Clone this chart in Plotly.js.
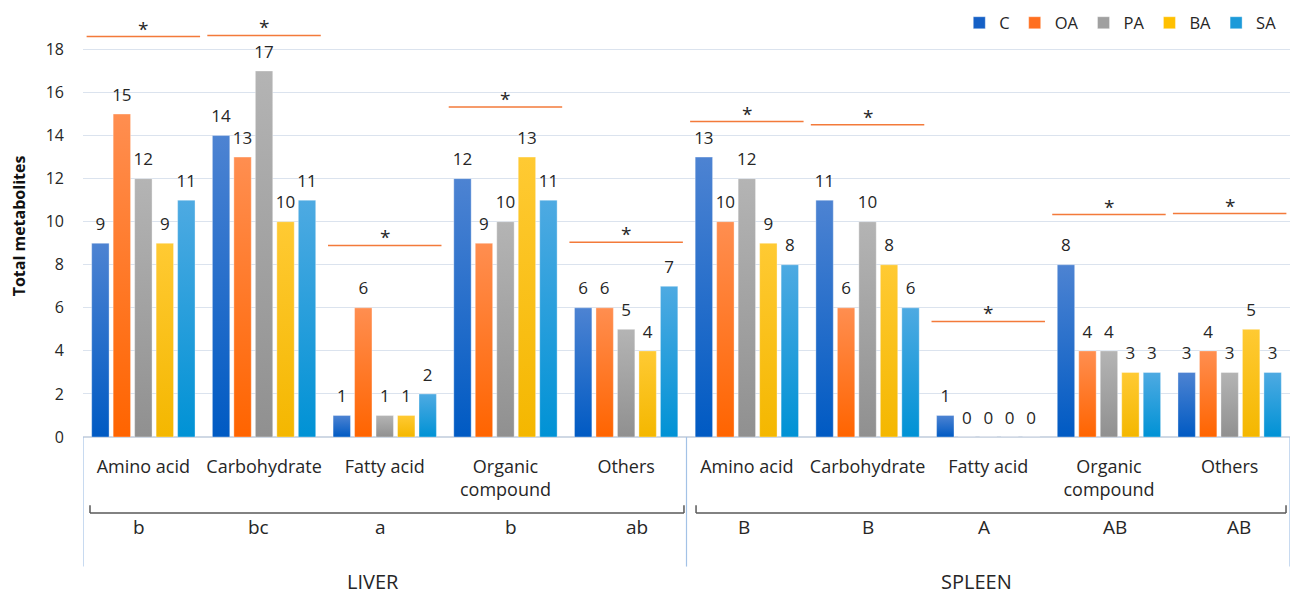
<!DOCTYPE html>
<html>
<head>
<meta charset="utf-8">
<script src="https://cdn.plot.ly/plotly-3.0.1.min.js"></script>
<style>
  html, body { margin: 0; padding: 0; background: #ffffff; }
  #chart { width: 1296px; height: 599px; }
</style>
</head>
<body>
<div id="chart"></div>
<script>
// Metabolite classes per tissue
const tissues = ['LIVER', 'SPLEEN'];
const classes = ['Amino acid', 'Carbohydrate', 'Fatty acid', 'Organic compound', 'Others'];
const classLabels = ['Amino acid', 'Carbohydrate', 'Fatty acid', 'Organic<br>compound', 'Others'];

// Treatment groups
const groups = ['C', 'OA', 'PA', 'BA', 'SA'];

// Total metabolites: liver classes then spleen classes
const valuesC  = [9, 14, 1, 12, 6,   13, 11, 1, 8, 3];
const valuesOA = [15, 13, 6, 9, 6,   10, 6, 0, 4, 4];
const valuesPA = [12, 17, 1, 10, 5,  12, 10, 0, 4, 3];
const valuesBA = [9, 10, 1, 13, 4,   9, 8, 0, 3, 5];
const valuesSA = [11, 11, 2, 11, 7,  8, 6, 0, 3, 3];

// Significance markers (*) drawn above each class, and the letter groupings
const sigLevels = [18.6, 18.65, 8.9, 15.33, 9.05,  14.65, 14.5, 5.37, 10.33, 10.38];
const liverLetters = ['b', 'bc', 'a', 'b', 'ab'];
const spleenLetters = ['B', 'B', 'A', 'AB', 'AB'];

const seriesValues = [valuesC, valuesOA, valuesPA, valuesBA, valuesSA];

// Colours: legend swatch, gradient top, gradient bottom
const swatch = ['#1560c6', '#ff6f1f', '#a0a0a0', '#ffc000', '#1c9ad9'];
const gradTop = ['#4d83d2', '#ff8e50', '#b4b4b4', '#ffca33', '#4eaae2'];
const gradBottom = ['#005ac3', '#ff6400', '#909090', '#f4b700', '#0092d5'];

const FONT = 'Open Sans, sans-serif';
const INK = '#262626';

// One category key per tissue/class pair
const xKeys = [];
const xText = [];
tissues.forEach(t => classes.forEach((c, i) => { xKeys.push(t + ' · ' + c); xText.push(classLabels[i]); }));

const traces = [];
groups.forEach((g, k) => {
  traces.push({
    type: 'bar', name: g, x: xKeys, y: seriesValues[k],
    marker: { color: swatch[k], line: { color: 'rgba(255,255,255,0.35)', width: 1 } },
    hoverinfo: 'x+y+name'
  });
});
// Value labels, grouped alongside the bars
groups.forEach((g, k) => {
  traces.push({
    type: 'scatter', mode: 'markers+text', name: g + ' label', showlegend: false,
    orientation: 'v',
    x: xKeys, y: seriesValues[k], text: seriesValues[k].map(String),
    textposition: 'top center', cliponaxis: false,
    textfont: { family: FONT, size: 17, color: INK },
    marker: { size: 13, opacity: 0 }, hoverinfo: 'skip'
  });
});

const shapes = [];
const annotations = [];

// Significance lines with asterisks
sigLevels.forEach((lv, i) => {
  shapes.push({ type: 'line', xref: 'x', yref: 'y', x0: i - 0.47, x1: i + 0.47, y0: lv, y1: lv,
    line: { color: '#f37a3a', width: 1.5 } });
  annotations.push({ xref: 'x', yref: 'y', x: i, y: lv, text: '*', showarrow: false,
    yanchor: 'middle', yshift: 8, font: { family: FONT, size: 19, color: INK } });
});

// Tissue separators below the axis
[-0.5, 4.5, 9.5].forEach(xv => {
  shapes.push({ type: 'line', xref: 'x', yref: 'paper', x0: xv, x1: xv, y0: 0, y1: -0.307,
    line: { color: '#a3c2e6', width: 1.2 } });
});

// Brackets grouping the classes of each tissue
[[-0.442, 4.479], [4.579, 9.467]].forEach(([a, b]) => {
  const yb = -0.1803, yh = -0.1616;
  const ln = { color: '#595959', width: 1.5 };
  shapes.push({ type: 'line', xref: 'x', yref: 'paper', x0: a, x1: b, y0: yb, y1: yb, line: ln });
  shapes.push({ type: 'line', xref: 'x', yref: 'paper', x0: a, x1: a, y0: yb, y1: yh, line: ln });
  shapes.push({ type: 'line', xref: 'x', yref: 'paper', x0: b, x1: b, y0: yb, y1: yh, line: ln });
});

// Letter groupings under each class (small horizontal nudges per letter)
const letterNudge = [-4, -6, -4, 6, 11,  -3, 0, -4, 6, 9];
liverLetters.concat(spleenLetters).forEach((t, i) => {
  annotations.push({ xref: 'x', yref: 'paper', x: i, y: -0.2131, text: t, showarrow: false,
    xshift: letterNudge[i], yanchor: 'middle', font: { family: FONT, size: 19, color: INK } });
});

// Tissue names
annotations.push({ xref: 'x', yref: 'paper', x: 1.9, y: -0.3794, text: 'LIVER', showarrow: false,
  yanchor: 'bottom', font: { family: FONT, size: 20, color: INK } });
annotations.push({ xref: 'x', yref: 'paper', x: 6.9, y: -0.3794, text: 'SPLEEN', showarrow: false,
  yanchor: 'bottom', font: { family: FONT, size: 20, color: INK } });

const layout = {
  width: 1296, height: 599,
  margin: { l: 83, r: 6, t: 10, b: 162 },
  paper_bgcolor: '#ffffff', plot_bgcolor: '#ffffff',
  font: { family: FONT, color: INK },
  barmode: 'group', bargap: 0.11, bargroupgap: 0.19,
  scattermode: 'group', scattergap: 0.11,
  showlegend: true,
  legend: {
    orientation: 'h', x: 0.726, xanchor: 'left', y: 0.981, yanchor: 'middle',
    font: { family: FONT, size: 16.5, color: INK }, bgcolor: 'rgba(0,0,0,0)', traceorder: 'normal'
  },
  xaxis: {
    type: 'category', range: [-0.5, 9.5],
    tickmode: 'array', tickvals: xKeys, ticktext: xText,
    tickfont: { family: FONT, size: 18, color: INK },
    ticklabelstandoff: 17,
    showgrid: false, showline: false, zeroline: false, ticks: ''
  },
  yaxis: {
    range: [0, 19.6], tickmode: 'linear', tick0: 0, dtick: 2,
    tickfont: { family: FONT, size: 16, color: INK },
    ticklabelstandoff: 18, ticks: '',
    showgrid: true, gridcolor: '#dbe3ee', gridwidth: 1,
    zeroline: true, zerolinecolor: '#cfd8e4', zerolinewidth: 1.2,
    showline: false,
    title: { text: 'Total metabolites', standoff: 16,
      font: { family: FONT, size: 16, weight: 'bold', color: '#111111' } }
  },
  shapes: shapes,
  annotations: annotations
};

// Vertical light-to-dark fills on the bars
function applyGradients(gd) {
  const svgNS = 'http://www.w3.org/2000/svg';
  const svg = gd.querySelector('.main-svg');
  let defs = svg.querySelector('defs');
  if (!defs) { defs = document.createElementNS(svgNS, 'defs'); svg.insertBefore(defs, svg.firstChild); }
  groups.forEach((g, k) => {
    const lg = document.createElementNS(svgNS, 'linearGradient');
    lg.setAttribute('id', 'barfill-' + k);
    lg.setAttribute('x1', '0'); lg.setAttribute('y1', '0');
    lg.setAttribute('x2', '0'); lg.setAttribute('y2', '1');
    [[0, gradTop[k]], [1, gradBottom[k]]].forEach(([o, c]) => {
      const st = document.createElementNS(svgNS, 'stop');
      st.setAttribute('offset', String(o));
      st.setAttribute('stop-color', c);
      lg.appendChild(st);
    });
    defs.appendChild(lg);
  });
  gd.querySelectorAll('.barlayer .trace').forEach((tr, k) => {
    tr.querySelectorAll('.point path').forEach(p => { p.style.fill = 'url(#barfill-' + k + ')'; });
  });
}

Plotly.newPlot('chart', traces, layout, { displayModeBar: false, staticPlot: true })
  .then(applyGradients);
</script>
</body>
</html>
